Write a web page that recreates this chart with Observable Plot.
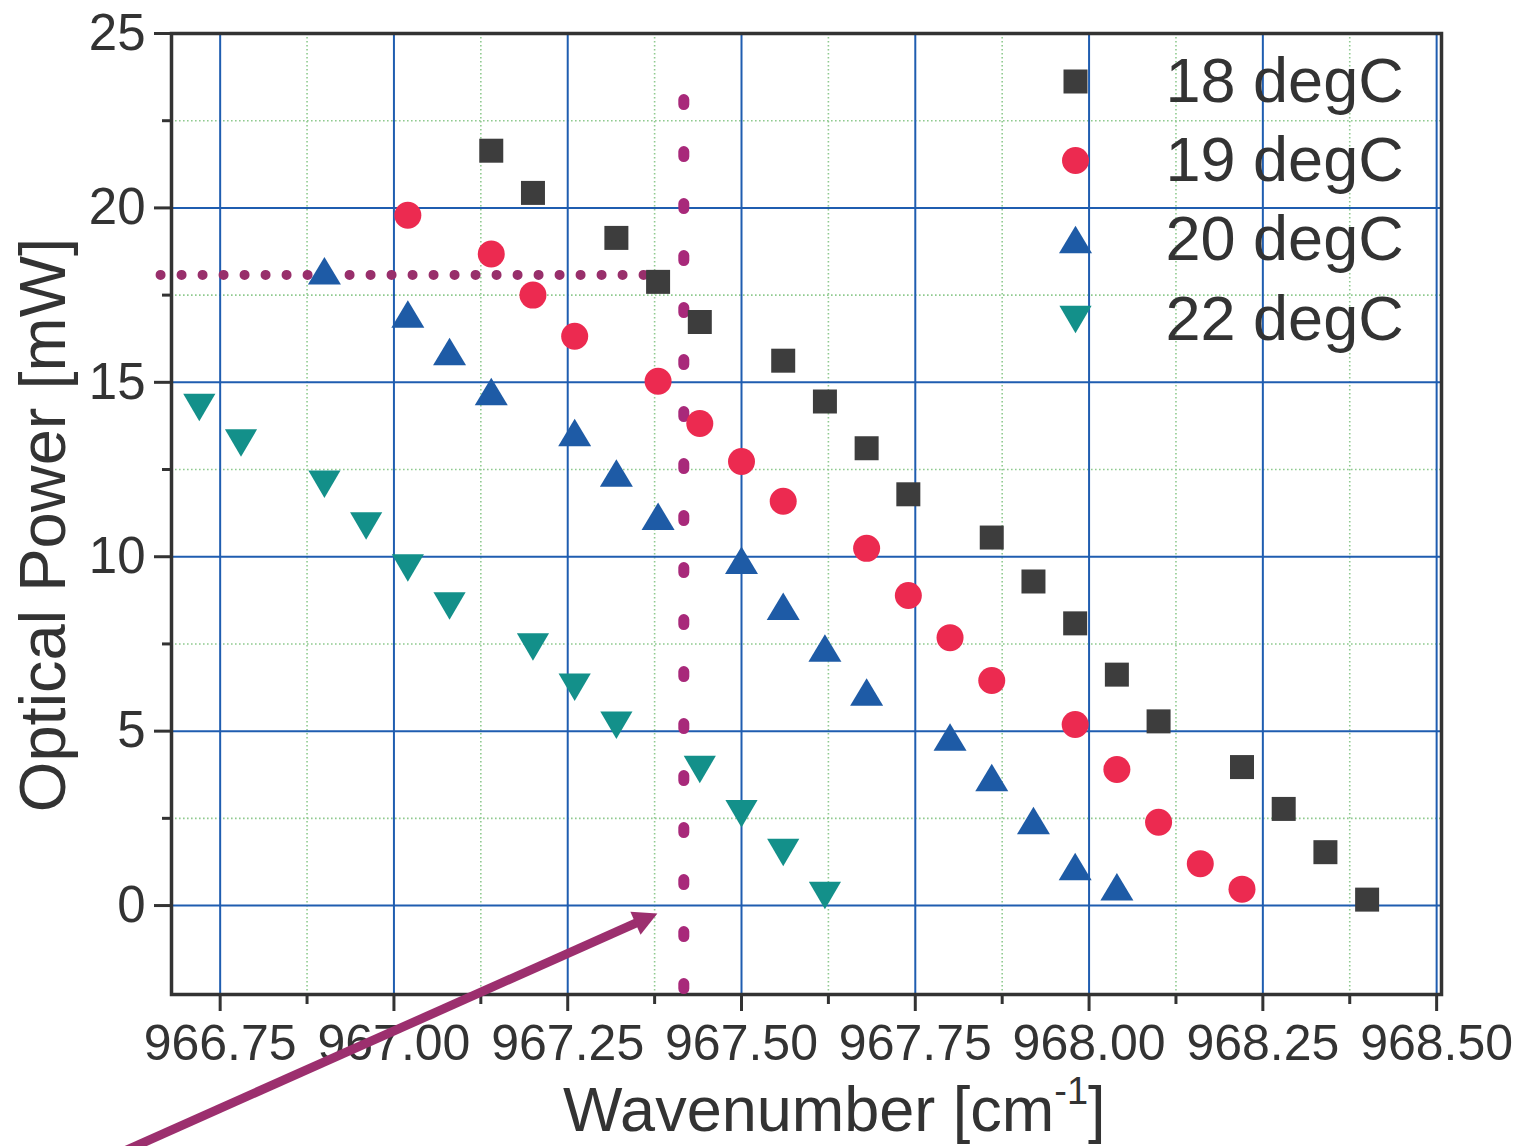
<!DOCTYPE html>
<html>
<head>
<meta charset="utf-8">
<script src="https://cdn.jsdelivr.net/npm/d3@7"></script>
<script src="https://cdn.jsdelivr.net/npm/@observablehq/plot@0.6"></script>
<style>
  html, body { margin: 0; padding: 0; background: #fff; }
  #chart { width: 1520px; height: 1146px; overflow: hidden; }
</style>
</head>
<body>
<div id="chart"></div>
<script>
// Laser output power versus emission wavenumber at four heat-sink temperatures.
const seriesNames = ["18 degC", "19 degC", "20 degC", "22 degC"];

const wavenumber18 = [967.14, 967.20, 967.32, 967.38, 967.44, 967.56, 967.62, 967.68, 967.74,
                      967.86, 967.92, 967.98, 968.04, 968.10, 968.22, 968.28, 968.34, 968.40];
const power18 = [21.64, 20.43, 19.14, 17.88, 16.73, 15.62, 14.45, 13.11, 11.79,
                 10.55, 9.29, 8.09, 6.62, 5.28, 3.97, 2.77, 1.53, 0.17];

const wavenumber19 = [967.02, 967.14, 967.20, 967.26, 967.38, 967.44, 967.50, 967.56, 967.68,
                      967.74, 967.80, 967.86, 967.98, 968.04, 968.10, 968.16, 968.22];
const power19 = [19.79, 18.68, 17.50, 16.32, 15.03, 13.82, 12.73, 11.59, 10.24,
                 8.89, 7.68, 6.45, 5.19, 3.90, 2.39, 1.20, 0.47];

const wavenumber20 = [966.90, 967.02, 967.08, 967.14, 967.26, 967.32, 967.38, 967.50,
                      967.56, 967.62, 967.68, 967.80, 967.86, 967.92, 967.98, 968.04];
const power20 = [18.20, 16.96, 15.88, 14.74, 13.56, 12.40, 11.16, 9.90,
                 8.58, 7.38, 6.12, 4.83, 3.67, 2.44, 1.12, 0.54];

const wavenumber22 = [966.72, 966.78, 966.90, 966.96, 967.02, 967.08, 967.20, 967.26,
                      967.32, 967.44, 967.50, 967.56, 967.62];
const power22 = [14.28, 13.26, 12.08, 10.88, 9.68, 8.59, 7.41, 6.26,
                 5.17, 3.90, 2.63, 1.52, 0.29];

// Axis ticks
const xTicks = [966.75, 967.00, 967.25, 967.50, 967.75, 968.00, 968.25, 968.50];
const xMinorTicks = [966.875, 967.125, 967.375, 967.625, 967.875, 968.125, 968.375];
const yTicks = [0, 5, 10, 15, 20, 25];
const yMinorTicks = [2.5, 7.5, 12.5, 17.5, 22.5];
const xDomain = [966.68, 968.507];
const yDomain = [-2.55, 25];

// Annotations: power level of the 20 degC peak, a marked wavenumber, and a pointer arrow
const levelPower = [18.08];
const levelSpan = [966.665, 967.402];
const markedWavenumber = [967.417];
const markedSpan = [23.09, -2.55];
const pointerFrom = [966.549, -7.60];
const pointerTo = [967.379, -0.228];

const series = [
  {name: seriesNames[0], wn: wavenumber18, p: power18, color: "#3d3d3d", shape: "square", r: 12},
  {name: seriesNames[1], wn: wavenumber19, p: power19, color: "#ec2a50", shape: "circle", r: 13.5},
  {name: seriesNames[2], wn: wavenumber20, p: power20, color: "#1e5ba6", shape: "up", r: 13.75},
  {name: seriesNames[3], wn: wavenumber22, p: power22, color: "#13908a", shape: "down", r: 13.75}
];

// Marker shapes, centred on their bounding box
const symbols = {
  square: {draw(ctx, size) { const s = Math.sqrt(size / Math.PI); ctx.rect(-s, -s, 2 * s, 2 * s); }},
  circle: {draw(ctx, size) { const s = Math.sqrt(size / Math.PI); ctx.moveTo(s, 0); ctx.arc(0, 0, s, 0, 2 * Math.PI); }},
  up: {draw(ctx, size) { const s = Math.sqrt(size / Math.PI);
    ctx.moveTo(0, -s); ctx.lineTo(1.2 * s, s); ctx.lineTo(-1.2 * s, s); ctx.closePath(); }},
  down: {draw(ctx, size) { const s = Math.sqrt(size / Math.PI);
    ctx.moveTo(0, s); ctx.lineTo(-1.17 * s, -s); ctx.lineTo(1.17 * s, -s); ctx.closePath(); }}
};

const width = 1520, height = 1146;
const marginLeft = 171, marginRight = 79, marginTop = 33, marginBottom = 152;
const fontFamily = "'Liberation Sans', Arial, Helvetica, sans-serif";
const ink = "#333";

// Arrowhead pointing along the pointer's on-screen direction, tip at the origin
const sx = Plot.scale({x: {domain: xDomain, range: [marginLeft, width - marginRight]}});
const sy = Plot.scale({y: {domain: yDomain, range: [height - marginBottom, marginTop]}});
const angle = Math.atan2(sy.apply(pointerTo[1]) - sy.apply(pointerFrom[1]),
                         sx.apply(pointerTo[0]) - sx.apply(pointerFrom[0]));
const headLen = 24, headWidth = 25;
const arrowHead = {draw(ctx) {
  const c = Math.cos(angle), s = Math.sin(angle);
  const pts = [[0, 0], [-headLen, -headWidth / 2], [-headLen, headWidth / 2]]
    .map(([u, v]) => [u * c - v * s, u * s + v * c]);
  ctx.moveTo(...pts[0]); ctx.lineTo(...pts[1]); ctx.lineTo(...pts[2]); ctx.closePath();
}};

const rows = series.map(s => s.wn.map((w, i) => ({wn: w, p: s.p[i]})));
const legendRowY = [48, 127, 206, 286];

const dotted = {stroke: "#8fca8f", strokeOpacity: 1, strokeWidth: 1.6, strokeDasharray: "1.6,2.4"};
const solid = {stroke: "#1f5db0", strokeOpacity: 1, strokeWidth: 2};

const chart = Plot.plot({
  width, height, marginLeft, marginRight, marginTop, marginBottom,
  x: {domain: xDomain, label: null},
  y: {domain: yDomain, label: null},
  style: {fontFamily, color: ink, background: "#fff"},
  marks: [
    Plot.gridX({ticks: xMinorTicks, ...dotted}),
    Plot.gridY({ticks: yMinorTicks, ...dotted}),
    Plot.gridX({ticks: xTicks, ...solid}),
    Plot.gridY({ticks: yTicks, ...solid}),
    Plot.frame({stroke: ink, strokeWidth: 3.5}),

    Plot.ruleY(levelPower, {x1: levelSpan[0], x2: levelSpan[1], stroke: "#982f6b",
      strokeWidth: 10, strokeDasharray: "0,21", strokeLinecap: "round"}),
    Plot.ruleX(markedWavenumber, {y1: markedSpan[0], y2: markedSpan[1], stroke: "#a8297a",
      strokeWidth: 11, strokeDasharray: "5,47", strokeLinecap: "round"}),

    ...series.map((s, i) => Plot.dot(rows[i], {x: "wn", y: "p", symbol: symbols[s.shape],
      r: s.r, fill: s.color, stroke: "none"})),

    // Legend inside the upper-right corner of the frame
    ...series.map((s, i) => Plot.dot([s.name], {frameAnchor: "top-right", dx: -366, dy: legendRowY[i],
      symbol: symbols[s.shape], r: s.r, fill: s.color, stroke: "none"})),
    ...series.map((s, i) => Plot.text([s.name], {frameAnchor: "top-right", dx: -276, dy: legendRowY[i],
      text: d => d, textAnchor: "start", lineAnchor: "middle", fontSize: 63, fill: ink})),

    Plot.axisX({ticks: xMinorTicks, tickSize: 10, strokeWidth: 3, tickFormat: () => "", label: null}),
    Plot.axisY({ticks: yMinorTicks, tickSize: 9, strokeWidth: 3, tickFormat: () => "", label: null}),
    Plot.axisX({ticks: xTicks, tickFormat: d3.format(".2f"), tickSize: 17, tickPadding: 13,
      strokeWidth: 3, fontSize: 50, label: null}),
    Plot.axisY({ticks: yTicks, tickFormat: d3.format("d"), tickSize: 17, tickPadding: 9,
      strokeWidth: 3, fontSize: 51, label: null}),

    Plot.text(["Optical Power [mW]"], {frameAnchor: "left", rotate: -90, dx: -127, dy: 11,
      text: d => d, textAnchor: "middle", lineAnchor: "middle", fontSize: 65, fill: ink}),

    Plot.arrow([0], {x1: pointerFrom[0], y1: pointerFrom[1], x2: pointerTo[0], y2: pointerTo[1],
      stroke: "#9c2f6e", strokeWidth: 9, headLength: 0, insetEnd: headLen - 4, bend: 0,
      strokeLinecap: "butt"}),
    Plot.dot([0], {x: () => pointerTo[0], y: () => pointerTo[1], symbol: arrowHead,
      fill: "#9c2f6e", stroke: "none"})
  ]
});

// Axis title with a superscript unit
const title = d3.select(chart).append("text")
  .attr("x", 563).attr("y", 1131).attr("text-anchor", "start")
  .attr("font-family", fontFamily).attr("font-size", 63).attr("fill", ink);
title.append("tspan").text("Wavenumber [cm");
title.append("tspan").attr("font-size", 38).attr("dy", -27).text("-1");
title.append("tspan").attr("dy", 27).text("]");

document.getElementById("chart").append(chart);
</script>
</body>
</html>
